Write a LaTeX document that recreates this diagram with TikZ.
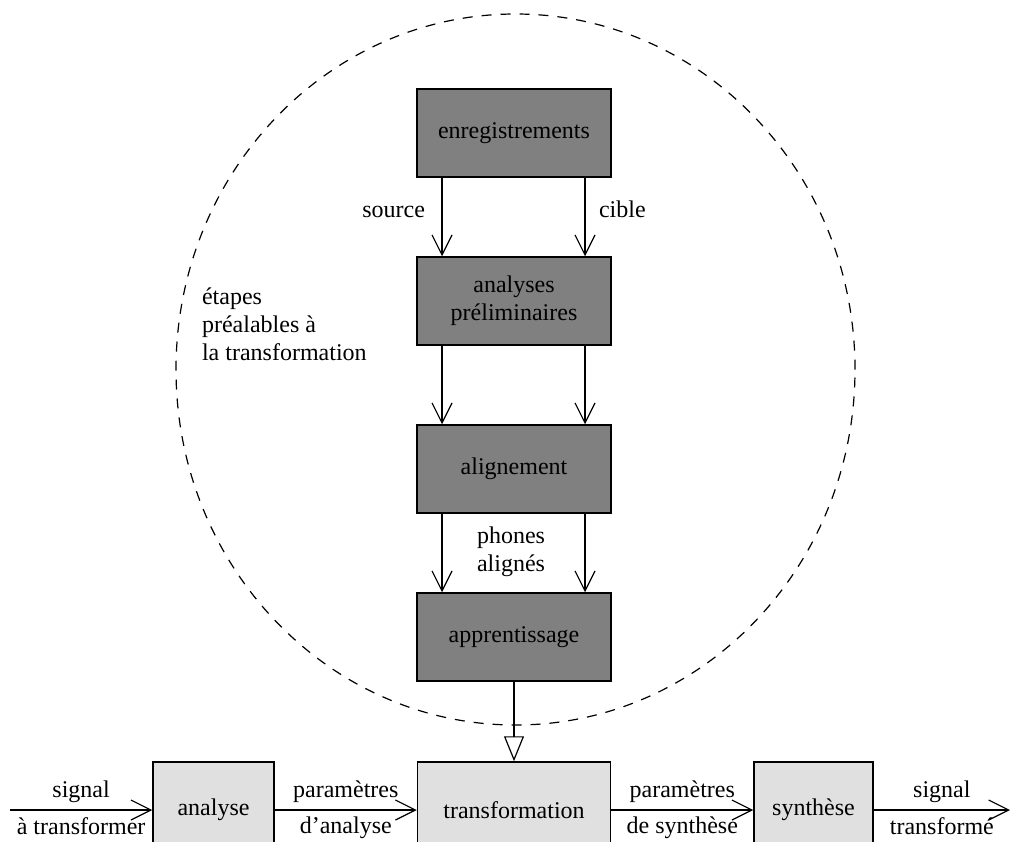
\documentclass[tikz,border=0pt]{standalone}
\usepackage{fontspec}
\setmainfont{Liberation Serif}
\usetikzlibrary{arrows.meta}
\definecolor{boxdark}{RGB}{128,128,128}
\definecolor{boxlight}{RGB}{224,224,224}
\begin{document}
\begin{tikzpicture}[x=0.5pt,y=-0.5pt,
  every node/.style={font=\fontsize{12}{14}\selectfont},
  darkbox/.style={draw, line width=0.75pt, fill=boxdark, minimum width=97pt, minimum height=44pt, inner sep=0pt, align=center},
  lightbox/.style={draw, line width=0.75pt, fill=boxlight, minimum height=48pt, inner sep=0pt},
  arr/.style={line width=0.6pt, -{Straight Barb[length=10pt,width=10pt]}},
  bigarr/.style={line width=0.6pt, -{Triangle[open,length=12.5pt,width=10pt]}}]
\useasboundingbox (0,0) rectangle (1011,841);
\draw[dash pattern=on 5pt off 4.5pt, line width=0.6pt] (515.5,369.5) ellipse [x radius=169.75pt, y radius=177.75pt];

\node[darkbox] (enr) at (514,133) {enregistrements};
\node[darkbox] (ana) at (514,301) {analyses\\préliminaires};
\node[darkbox] (ali) at (514,469) {alignement};
\node[darkbox] (app) at (514,637) {apprentissage};
\node[lightbox, minimum width=60.5pt] (anl) at (213.5,810) {analyse};
\node[lightbox, minimum width=96.5pt] (tra) at (514,810) {transformation};
\node[lightbox, minimum width=59.5pt] (syn) at (813.5,810) {synthèse};
\coordinate (in) at (10,810);
\coordinate (out) at (1010,810);

\draw[arr] ([xshift=-36pt]enr.south) -- ([xshift=-36pt]ana.north);
\draw[arr] ([xshift=35.5pt]enr.south) -- ([xshift=35.5pt]ana.north);
\draw[arr] ([xshift=-36pt]ana.south) -- ([xshift=-36pt]ali.north);
\draw[arr] ([xshift=35.5pt]ana.south) -- ([xshift=35.5pt]ali.north);
\draw[arr] ([xshift=-36pt]ali.south) -- ([xshift=-36pt]app.north);
\draw[arr] ([xshift=35.5pt]ali.south) -- ([xshift=35.5pt]app.north);
\draw[bigarr] (app.south) -- (tra.north);

\draw[arr] (in) -- node[above]{signal} node[below]{à transformer} (anl.west);
\draw[arr] (anl.east) -- node[above]{paramètres} node[below]{d’analyse} (tra.west);
\draw[arr] (tra.east) -- node[above]{paramètres} node[below]{de synthèse} (syn.west);
\draw[arr] (syn.east) -- node[above]{signal} node[below]{transformé} (out);

\node[anchor=base east] (src) at (432,217) {source};
\node[anchor=base west] (cib) at (592,217) {cible};
\node[anchor=west, align=left] (eta) at (195,324) {étapes\\préalables à\\la transformation};
\node[align=center] (pho) at (511,552) {phones\\alignés};
\end{tikzpicture}
\end{document}
